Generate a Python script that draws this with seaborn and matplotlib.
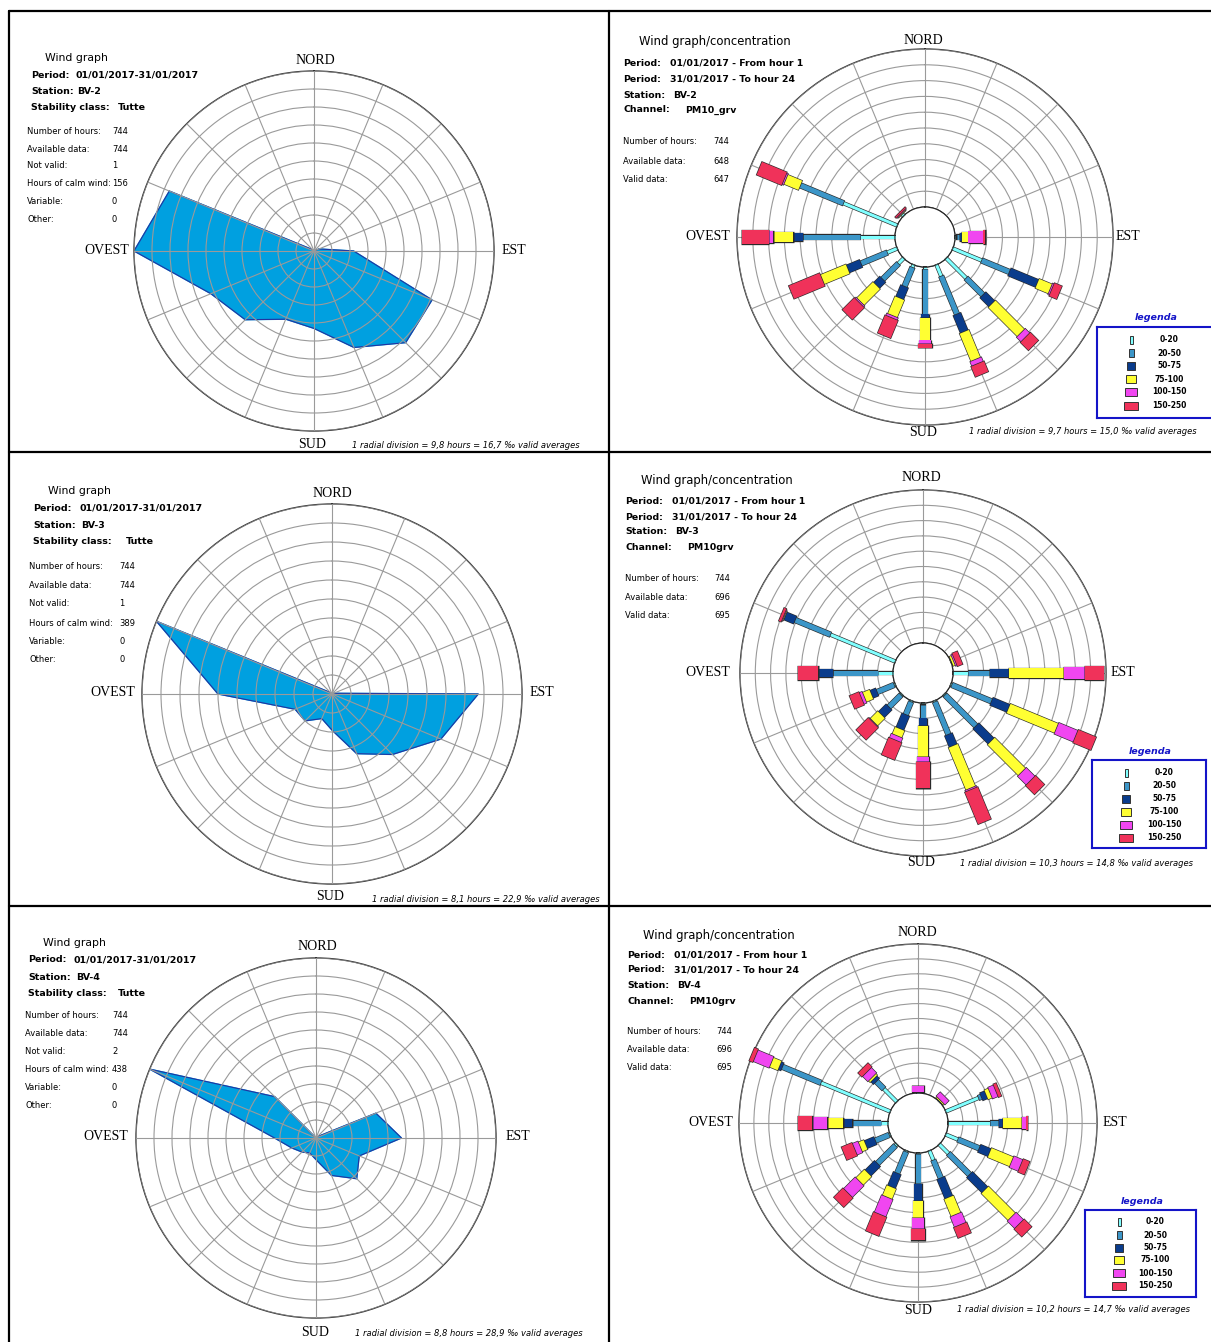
import numpy as np
import pandas as pd
import seaborn as sns
import matplotlib.pyplot as plt
from matplotlib.lines import Line2D
from matplotlib.patches import Rectangle

sns.set_style("white")
plt.rcParams["font.family"] = ["DejaVu Sans"]
plt.rcParams["text.color"] = "black"

# --- dati (unità = divisioni radiali) ---
directions = ["N", "NNE", "NE", "ENE", "E", "ESE", "SE", "SSE",
              "S", "SSW", "SW", "WSW", "W", "WNW", "NW", "NNW"]
angles = np.arange(16) * 22.5

wind_bv2 = [0, 0, 0, 0.3, 2.2, 7.1, 7.2, 5.8, 4.3, 4.1, 5.4, 6.2, 10.0, 8.7, 0.1, 0]
wind_bv3 = [0, 0, 0, 0.1, 7.7, 6.2, 4.5, 3.4, 1.9, 1.4, 2.0, 2.1, 6.0, 10.0, 0.1, 0]
wind_bv4 = [0, 0, 0.1, 3.6, 4.75, 2.6, 3.2, 2.25, 1.2, 0.9, 1.1, 1.45, 2.3, 10.0, 3.25, 0]

class_labels = ["0-20", "20-50", "50-75", "75-100", "100-150", "150-250"]

# righe = direzioni, colonne = classi di concentrazione
conc_bv2 = [
    [0, 0, 0, 0, 0, 0],
    [0, 0, 0, 0, 0, 0],
    [0, 0, 0, 0, 0, 0],
    [0, 0, 0, 0, 0, 0],
    [0.1, 0.2, 0.15, 0.4, 0.95, 0.1],
    [2.0, 1.9, 1.9, 0.9, 0.1, 0.5],
    [1.8, 1.5, 0.8, 2.6, 0.4, 0.7],
    [0.8, 2.6, 1.2, 1.9, 0.3, 0.7],
    [0.15, 2.85, 0.2, 1.45, 0.2, 0.25],
    [0.2, 1.3, 0.8, 1.2, 0.15, 1.2],
    [0.5, 1.4, 0.55, 1.45, 0.1, 1.05],
    [0.7, 1.8, 0.9, 1.75, 0, 2.1],
    [2.2, 3.65, 0.6, 1.25, 0.3, 1.7],
    [3.7, 2.95, 0, 1.0, 0.1, 1.7],
    [0.15, 0, 0, 0.05, 0.05, 0.08],
    [0, 0, 0, 0, 0, 0],
]
conc_bv3 = [
    [0, 0, 0, 0, 0, 0],
    [0, 0, 0, 0, 0, 0],
    [0, 0, 0, 0, 0, 0],
    [0.05, 0, 0, 0.15, 0.1, 0.35],
    [1.0, 1.4, 1.25, 3.6, 1.35, 1.25],
    [0.1, 2.8, 1.2, 3.4, 1.35, 1.25],
    [0.1, 2.85, 1.4, 2.85, 0.8, 0.8],
    [0.1, 2.3, 0.8, 3.0, 0.1, 2.25],
    [0.1, 0.9, 0.5, 2.0, 0.35, 1.7],
    [0.1, 0.9, 1.0, 0.5, 0.3, 1.2],
    [0.1, 1.1, 0.7, 0.7, 0.05, 1.1],
    [0.1, 1.2, 0.4, 0.5, 0.2, 0.65],
    [1.0, 2.95, 0.95, 0, 0, 1.3],
    [4.6, 2.5, 0.7, 0.05, 0.05, 0.15],
    [0, 0, 0, 0, 0, 0],
    [0, 0, 0, 0, 0, 0],
]
conc_bv4 = [
    [0.05, 0, 0, 0, 0.45, 0],
    [0, 0, 0, 0, 0, 0],
    [0.05, 0, 0, 0.1, 0.35, 0],
    [2.4, 0.2, 0.35, 0.3, 0.4, 0.2],
    [2.85, 0.55, 0.3, 1.25, 0.3, 0.1],
    [0.9, 1.55, 0.75, 1.6, 0.65, 0.45],
    [0.9, 2.0, 1.45, 2.55, 0.7, 0.7],
    [0.7, 1.3, 1.4, 1.25, 0.75, 0.75],
    [0.1, 1.95, 1.15, 1.15, 0.75, 0.75],
    [0.1, 1.55, 1.0, 0.75, 1.25, 1.35],
    [0.15, 1.7, 0.9, 0.8, 1.1, 0.85],
    [0.1, 1.0, 0.7, 0.4, 0.4, 0.75],
    [0.5, 1.9, 0.6, 1.1, 1.0, 0.95],
    [5.05, 2.8, 0.2, 0.6, 1.15, 0.25],
    [1.25, 0.7, 0.25, 0.15, 0.5, 0.35],
    [0, 0, 0, 0, 0, 0],
]

class_colors = sns.color_palette(["#80FFFF", "#3C96C8", "#0A3C8C", "#FFFF32", "#F046F0", "#F0325A"])
class_px = [3, 5, 8, 10, 12, 14]   # spessore barre in pixel
fill_blue = "#00A0E0"
edge_blue = "#2233A0"
grid_col = "#9A9A9A"
leg_blue = "#1414C8"

W, H = 1211, 1342
fig = plt.figure(figsize=(W / 100, H / 100), dpi=100)


def px_axes(x0, y0, w, h, **kw):
    return fig.add_axes([x0 / W, 1 - (y0 + h) / H, w / W, h / H], **kw)


def ftext(x, y, s, **kw):
    kw.setdefault("va", "center")
    fig.text(x / W, 1 - y / H, s, **kw)


def setup_polar(ax):
    ax.set_theta_zero_location("N")
    ax.set_theta_direction(-1)
    ax.set_xticks(np.deg2rad(angles))
    ax.set_yticks(np.arange(1, 11))
    ax.set_xticklabels([])
    ax.set_yticklabels([])
    ax.grid(True, color=grid_col, lw=0.8)
    ax.set_axisbelow(False)
    ax.spines["polar"].set_color("#333333")
    ax.spines["polar"].set_linewidth(1.0)


def wind_panel(cx, cy, R, values):
    ax = px_axes(cx - R, cy - R, 2 * R, 2 * R, projection="polar")
    setup_polar(ax)
    df = pd.DataFrame({"theta": np.deg2rad(np.append(angles, angles[0])),
                       "r": np.append(values, values[0])})
    ax.fill(df["theta"], df["r"], color=fill_blue, zorder=1)
    sns.lineplot(data=df, x="theta", y="r", sort=False, estimator=None,
                 color=edge_blue, lw=0.8, ax=ax)
    ax.set_xlabel("")
    ax.set_ylabel("")
    ax.set_ylim(0, 10)


def conc_panel(cx, cy, R, data):
    ax = px_axes(cx - R, cy - R, 2 * R, 2 * R, projection="polar")
    setup_polar(ax)
    div_px = (R - 30) / 10
    hole = 30 / div_px
    eps = 0.7 / div_px
    for th, row in zip(np.deg2rad(angles), data):
        r0 = 0
        for k, v in enumerate(row):
            if v <= 0:
                continue
            ax.plot([th, th], [r0 - eps, r0 + v + eps], color="#2a2a2a",
                    lw=(class_px[k] + 1.3) * 0.72, solid_capstyle="butt",
                    zorder=4, clip_on=False)
            ax.plot([th, th], [r0, r0 + v], color=class_colors[k],
                    lw=class_px[k] * 0.72, solid_capstyle="butt",
                    zorder=4, clip_on=False)
            r0 += v
    t = np.linspace(0, 2 * np.pi, 361)
    ax.plot(t, np.zeros_like(t), color="#222222", lw=0.9, zorder=5)
    ax.set_rorigin(-hole)
    ax.set_ylim(0, 10)


def legend_box(x0, y0, x1, y1, tx, ty, rows_y, sw_x, lab_x):
    ax = px_axes(x0, y0, x1 - x0, y1 - y0)
    ax.set_xlim(x0, x1)
    ax.set_ylim(y1, y0)
    ax.set_xticks([])
    ax.set_yticks([])
    for s in ax.spines.values():
        s.set_color(leg_blue)
        s.set_linewidth(1.5)
    for k, y in enumerate(rows_y):
        w = class_px[k]
        ax.add_patch(Rectangle((sw_x - w / 2, y - 4), w, 8, fc=class_colors[k],
                               ec="#333333", lw=0.7))
        ax.text(lab_x, y, class_labels[k], ha="center", va="center",
                fontsize=5.5, fontweight="bold")
    ftext(tx, ty, "legenda", color=leg_blue, fontsize=6.8, fontweight="bold",
          style="italic", ha="center")


def compass(pos):
    for name, (x, y) in zip(["NORD", "SUD", "OVEST", "EST"], pos):
        ftext(x, y, name, ha="center", fontsize=10, family="Liberation Serif")


def wind_info(tx, ty, bx, by, bvx, station, nx, ny, nvx, not_valid, calm):
    ftext(tx, ty, "Wind graph", fontsize=7.8)
    bold = [("Period:", "01/01/2017-31/01/2017"), ("Station:", station),
            ("Stability class:", "Tutte")]
    for (lab, val), y, vx in zip(bold, by, bvx):
        ftext(bx, y, lab, fontsize=6.8, fontweight="bold")
        ftext(vx, y, val, fontsize=6.8, fontweight="bold")
    normal = [("Number of hours:", "744"), ("Available data:", "744"),
              ("Not valid:", not_valid), ("Hours of calm wind:", calm),
              ("Variable:", "0"), ("Other:", "0")]
    for (lab, val), y in zip(normal, ny):
        ftext(nx, y, lab, fontsize=6)
        ftext(nvx, y, val, fontsize=6)


def conc_info(tx, ty, bx, by, station, channel, ny, nvx, avail, valid):
    ftext(tx, ty, "Wind graph/concentration", fontsize=8.4)
    bold = [("Period:", "01/01/2017 - From hour 1", 47),
            ("Period:", "31/01/2017 - To hour 24", 47),
            ("Station:", station, 50), ("Channel:", channel, 62)]
    for (lab, val, off), y in zip(bold, by):
        ftext(bx, y, lab, fontsize=6.75, fontweight="bold")
        ftext(bx + off, y, val, fontsize=6.75, fontweight="bold")
    normal = [("Number of hours:", "744"), ("Available data:", avail),
              ("Valid data:", valid)]
    for (lab, val), y in zip(normal, ny):
        ftext(bx, y, lab, fontsize=6)
        ftext(nvx, y, val, fontsize=6)


def footer(x, y, hours, permil):
    ftext(x, y, f"1 radial division = {hours} hours = {permil} \u2030 valid averages",
          fontsize=6.05, style="italic")


# --- pannello 1: BV-2 vento ---
wind_panel(314, 251, 180, wind_bv2)
compass([(315, 61), (312, 444), (107, 250), (514, 250)])
wind_info(45, 58, 31, [75, 91, 107], [75, 77, 118], "BV-2",
          27, [131, 149, 166, 184, 202, 219], 112, "1", "156")
footer(352, 446, "9,8", "16,7")

# --- pannello 2: BV-2 concentrazione ---
conc_panel(925, 237, 188, conc_bv2)
compass([(923, 40), (923, 432), (708, 237), (1128, 237)])
conc_info(639, 42, 623, [63, 79, 95, 110], "BV-2", "PM10_grv",
          [142, 161, 180], 713, "648", "647")
footer(969, 432, "9,7", "15,0")
legend_box(1097, 327, 1215, 418, 1156, 318, [340, 353, 366, 379, 392, 406], 1131, 1169)

# --- pannello 3: BV-3 vento ---
wind_panel(332, 694, 190, wind_bv3)
compass([(332, 494), (330, 897), (113, 693), (542, 693)])
wind_info(48, 491, 33, [508, 525, 542], [79, 81, 126], "BV-3",
          29, [567, 586, 604, 623, 641, 660], 119, "1", "389")
footer(372, 899, "8,1", "22,9")

# --- pannello 4: BV-3 concentrazione ---
conc_panel(923, 673, 183, conc_bv3)
compass([(921, 478), (921, 863), (708, 672), (1123, 672)])
conc_info(641, 481, 625, [501, 517, 532, 548], "BV-3", "PM10grv",
          [578, 597, 615], 714, "696", "695")
footer(960, 863, "10,3", "14,8")
legend_box(1092, 760, 1206, 848, 1150, 751, [773, 786, 799, 812, 825, 838], 1126, 1164)

# --- pannello 5: BV-4 vento ---
wind_panel(316, 1138, 180, wind_bv4)
compass([(317, 946), (315, 1332), (106, 1137), (518, 1137)])
wind_info(43, 943, 28, [960, 977, 993], [73, 76, 118], "BV-4",
          25, [1016, 1034, 1052, 1070, 1088, 1106], 112, "2", "438")
footer(355, 1334, "8,8", "28,9")

# --- pannello 6: BV-4 concentrazione ---
conc_panel(918, 1123, 179, conc_bv4)
compass([(917, 932), (918, 1311), (711, 1123), (1115, 1123)])
conc_info(643, 935, 627, [955, 970, 986, 1001], "BV-4", "PM10grv",
          [1031, 1050, 1068], 716, "696", "695")
footer(957, 1310, "10,2", "14,7")
legend_box(1085, 1210, 1196, 1297, 1142, 1201, [1222, 1235, 1248, 1260, 1273, 1286], 1119, 1155)

# --- cornice ---
frame = [((9, 11), (1211, 11)), ((9, 11), (9, 1342)), ((609, 11), (609, 1342)),
         ((9, 452), (1211, 452)), ((9, 906), (1211, 906))]
for (x0, y0), (x1, y1) in frame:
    fig.add_artist(Line2D([x0 / W, x1 / W], [1 - y0 / H, 1 - y1 / H],
                          transform=fig.transFigure, color="black", lw=1.6))

fig.savefig("out.png", dpi=100)
